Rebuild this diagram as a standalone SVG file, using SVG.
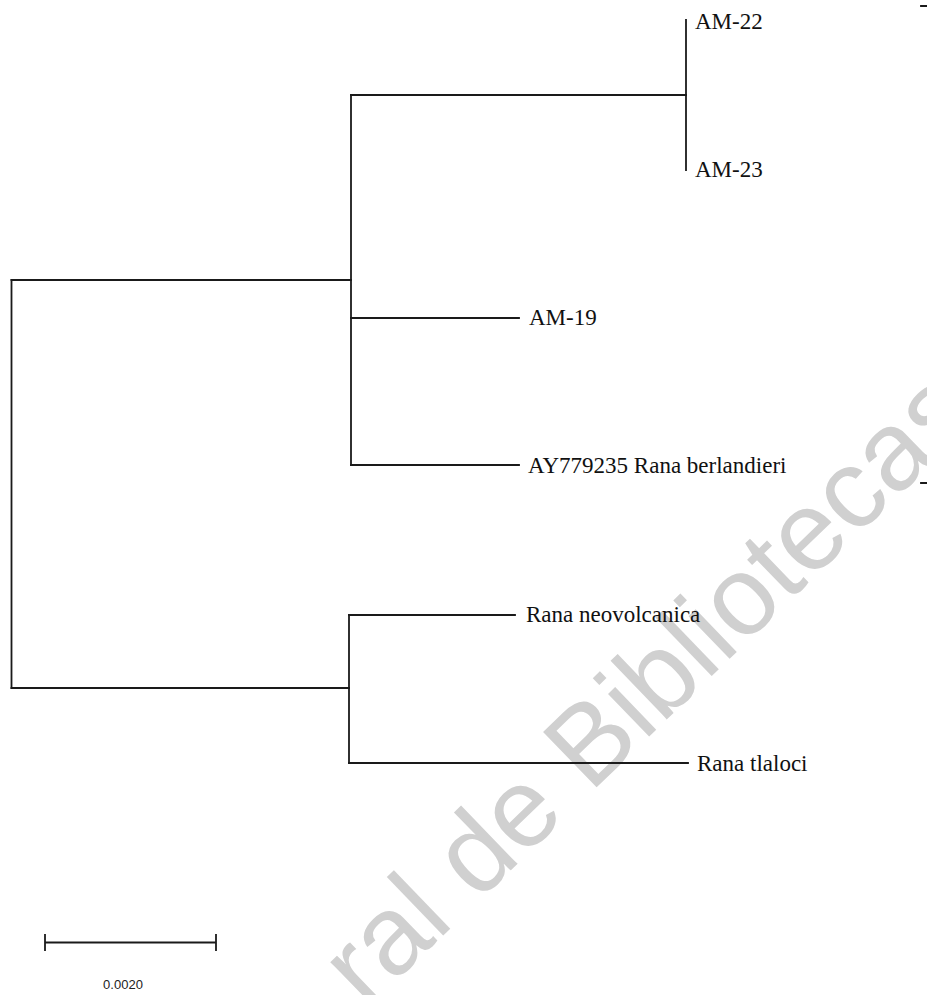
<svg xmlns="http://www.w3.org/2000/svg" width="927" height="995" viewBox="0 0 927 995">
<style>
.br{stroke:#1a1a1a;stroke-width:1.8;fill:none;stroke-linecap:square}
.lab{font-family:"Liberation Serif","Times New Roman",serif;font-size:23px;fill:#111}
.sc{font-family:"Liberation Sans",Arial,sans-serif;font-size:13px;fill:#222}
.wm{font-family:"Liberation Sans",Arial,sans-serif;font-size:112px;fill:#d0d0d0}
</style>
<rect width="927" height="995" fill="#ffffff"/>
<text class="wm" transform="translate(366,1010) rotate(-44)">ral de Bibliotecas</text>
<g id="connectors">
<path class="br" d="M11.5,280 V688"/>
<path class="br" d="M11.5,280 H351"/>
<path class="br" d="M11.5,688 H349"/>
<path class="br" d="M351,95 V465"/>
<path class="br" d="M351,95 H686"/>
<path class="br" d="M686,20 V170"/>
<path class="br" d="M351,318 H519"/>
<path class="br" d="M351,465 H519"/>
<path class="br" d="M349,615 V763"/>
<path class="br" d="M349,615 H515"/>
<path class="br" d="M349,763 H688"/>
</g>
<g id="AM-22"><text class="lab" x="695" y="29">AM-22</text></g>
<g id="AM-23"><text class="lab" x="695" y="177">AM-23</text></g>
<g id="AM-19"><text class="lab" x="529" y="325">AM-19</text></g>
<g id="AY779235"><text class="lab" x="528" y="473">AY779235 Rana berlandieri</text></g>
<g id="neovolcanica"><text class="lab" x="526" y="622">Rana neovolcanica</text></g>
<g id="tlaloci"><text class="lab" x="697" y="771">Rana tlaloci</text></g>
<g id="scale">
<path class="br" d="M45,942.5 H216 M45,935 V950 M216,935 V950"/>
<text class="sc" x="123" y="989" text-anchor="middle">0.0020</text>
</g>
<g id="edge-marks">
<path class="br" d="M921,6 H927 M921,483 H927"/>
</g>
</svg>
